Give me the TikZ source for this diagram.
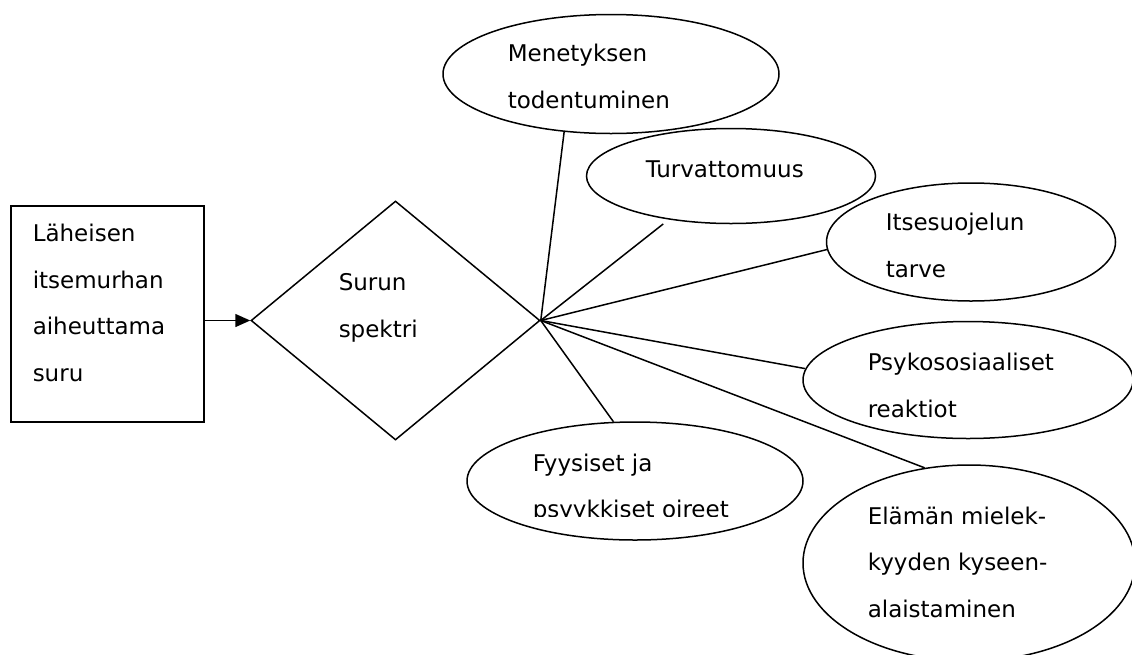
\documentclass[tikz,border=0pt]{standalone}
\usepackage{fontspec}
\setmainfont{DejaVu Sans}
\usetikzlibrary{shapes.geometric,arrows.meta}

\begin{document}
\begin{tikzpicture}[x=1pt, y=-1pt, line width=1.5pt,
    pallo/.style={draw, ellipse, inner sep=0pt},
    teksti/.style={anchor=base west, align=left, inner sep=0pt, font=\fontsize{23}{46.5}\selectfont}]

    \useasboundingbox (0, 0) rectangle (1132, 654);

    \node [draw, rectangle, minimum width=193pt, minimum height=216pt, inner sep=0pt] (suru) at (107.5, 314) {};
    \node [draw, diamond, minimum width=289pt, minimum height=239pt, inner sep=0pt] (spektri) at (395.5, 320.5) {};
    \node [pallo, minimum width=336pt, minimum height=119pt] (menetys) at (611, 74) {};
    \node [pallo, minimum width=289pt, minimum height=95pt] (turva) at (731, 176) {};
    \node [pallo, minimum width=289pt, minimum height=118pt] (suoja) at (971, 242) {};
    \node [pallo, minimum width=330pt, minimum height=117pt] (psyko) at (968, 380) {};
    \node [pallo, minimum width=336pt, minimum height=118pt] (oire) at (635, 481) {};
    \node [pallo, minimum width=332pt, minimum height=196pt] (elama) at (969, 563) {};

    \node [teksti] (suru-t) at (32, 381) {Läheisen\\itsemurhan\\aiheuttama\\suru};
    \node [teksti] (spektri-t) at (338, 337) {Surun\\spektri};
    \node [teksti] (menetys-t) at (507, 108) {Menetyksen\\todentuminen};
    \node [teksti] (turva-t) at (645, 177) {Turvattomuus};
    \node [teksti] (suoja-t) at (885, 277) {Itsesuojelun\\tarve};
    \node [teksti] (psyko-t) at (867, 417) {Psykososiaaliset\\reaktiot};
    \begin{scope}
      \clip (440, 400) rectangle (820, 516);
      \node [teksti] (oire-t) at (532, 517.5) {Fyysiset ja\\psyykkiset oireet};
    \end{scope}
    \node [teksti] (elama-t) at (867, 617) {Elämän mielek-\\kyyden kyseen-\\alaistaminen};

    \draw [-{Triangle[length=15pt, width=13pt]}] (suru.east |- spektri.west) -- (spektri.west);
    \draw (spektri.east) -- (menetys.231);
    \draw [shorten >=7pt] (spektri.east) -- (turva.215);
    \draw (spektri.east) -- (suoja.183);
    \draw (spektri.east) -- (psyko.176);
    \draw (spektri.east) -- (oire.110);
    \draw (spektri.east) -- (elama.115);

\end{tikzpicture}
\end{document}
